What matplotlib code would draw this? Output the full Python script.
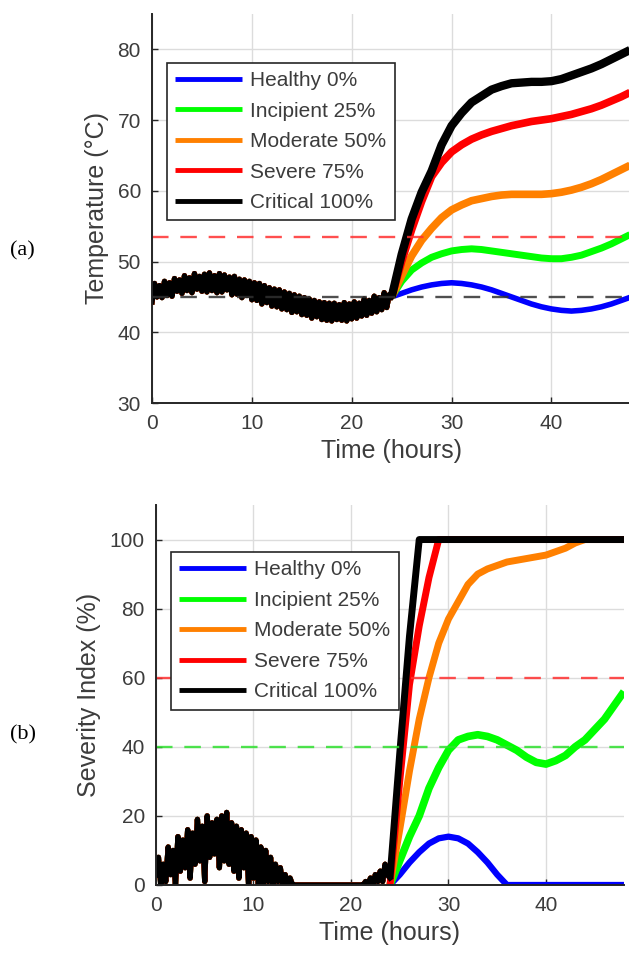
import numpy as np
import matplotlib
matplotlib.use("Agg")
from matplotlib import pyplot as plt

plt.rcParams["font.family"] = ["Liberation Sans", "DejaVu Sans"]

labels = ["Healthy 0%", "Incipient 25%", "Moderate 50%", "Severe 75%", "Critical 100%"]
colors = ["#0000ff", "#00ff00", "#ff8000", "#ff0000", "#000000"]

# first 24 h: all cases overlap (noisy ambient cycle), sampled every 0.25 h
hours_early = np.arange(0, 24.01, 0.25)
temp_early = [
    44.3, 46.9, 45.0, 46.6, 44.9, 47.2, 45.2, 47.0, 45.1, 47.6, 45.8, 47.4,
    45.5, 48.0, 45.9, 47.7, 45.6, 48.3, 46.1, 47.9, 45.8, 48.2, 45.7, 48.4,
    45.9, 48.0, 45.6, 48.3, 45.7, 48.1, 46.0, 47.8, 45.3, 47.9, 45.4, 47.5,
    44.9, 47.4, 45.2, 47.2, 44.6, 47.0, 44.5, 46.9, 44.0, 46.6, 44.2, 46.3,
    43.7, 46.1, 43.6, 46.0, 43.3, 45.7, 43.2, 45.5, 42.8, 45.3, 42.9, 45.1,
    42.5, 44.9, 42.4, 44.7, 42.0, 44.5, 42.2, 44.3, 41.8, 44.2, 41.7, 44.1,
    41.6, 44.1, 41.8, 43.9, 41.7, 44.2, 41.6, 44.0, 41.9, 44.3, 42.0, 44.1,
    42.3, 44.7, 42.4, 44.5, 42.7, 45.1, 42.9, 44.9, 43.2, 45.6, 43.5, 45.3,
    45.0,
]
sev_early = [
    3, 8, 0, 6, 1, 11, 3, 10, 0, 14, 4, 13,
    5, 16, 2, 15, 6, 19, 7, 17, 1, 20, 8, 18,
    9, 19, 5, 20, 7, 21, 6, 18, 4, 17, 2, 16,
    5, 15, 0, 14, 2, 13, 0, 11, 0, 10, 1, 8,
    0, 6, 1, 5, 0, 3, 0, 2, 0, 0, 0, 0,
    0, 0, 0, 0, 0, 0, 0, 0, 0, 0, 0, 0,
    0, 0, 0, 0, 0, 0, 0, 0, 0, 0, 0, 0,
    0, 0, 1, 0, 2, 0, 3, 1, 4, 1, 6, 3,
    2,
]

# 24-48 h: fault injected, hourly samples
hours_late = np.arange(24, 48.01, 1.0)
temp_late = {
    "Healthy 0%": [45.0, 45.5, 46.0, 46.4, 46.7, 46.9, 47.0, 46.9, 46.7, 46.4, 46.0, 45.5, 45.0,
                   44.5, 44.0, 43.6, 43.3, 43.1, 43.0, 43.1, 43.3, 43.6, 44.0, 44.5, 45.0],
    "Incipient 25%": [45.0, 47.2, 48.8, 49.8, 50.6, 51.1, 51.5, 51.7, 51.8, 51.7, 51.5, 51.3, 51.1,
                      50.9, 50.7, 50.5, 50.4, 50.4, 50.6, 50.9, 51.4, 51.9, 52.5, 53.2, 53.9],
    "Moderate 50%": [45.0, 48.0, 50.8, 53.0, 54.7, 56.2, 57.3, 58.0, 58.6, 58.9, 59.2, 59.4, 59.5,
                     59.5, 59.5, 59.5, 59.6, 59.8, 60.1, 60.5, 61.0, 61.6, 62.3, 63.0, 63.7],
    "Severe 75%": [45.0, 50.0, 54.5, 58.5, 62.0, 64.0, 65.5, 66.5, 67.3, 67.9, 68.4, 68.8, 69.2,
                   69.5, 69.8, 70.0, 70.2, 70.5, 70.8, 71.2, 71.6, 72.1, 72.7, 73.3, 74.0],
    "Critical 100%": [45.0, 51.0, 56.0, 59.8, 62.8, 66.5, 69.2, 71.0, 72.5, 73.4, 74.3, 74.8, 75.2,
                      75.3, 75.4, 75.4, 75.5, 75.8, 76.3, 76.8, 77.3, 77.9, 78.6, 79.3, 80.0],
}
sev_late = {
    "Healthy 0%": [0, 3, 6.5, 9.5, 12, 13.5, 14, 13.5, 12, 9.5, 6.5, 3, 0,
                   0, 0, 0, 0, 0, 0, 0, 0, 0, 0, 0, 0],
    "Incipient 25%": [0, 7, 14, 20, 28, 34, 39, 42, 43, 43.5, 43, 42, 40.5,
                      39, 37, 35.5, 35, 36, 37.5, 40, 42, 45, 48, 52, 56],
    "Moderate 50%": [0, 16, 33, 48, 60, 70, 77, 82, 87, 90, 91.5, 92.5, 93.5,
                     94, 94.5, 95, 95.5, 96.5, 97.5, 99, 100, 100, 100, 100, 100],
    "Severe 75%": [0, 30, 58, 75, 89, 100, 100, 100, 100, 100, 100, 100, 100,
                   100, 100, 100, 100, 100, 100, 100, 100, 100, 100, 100, 100],
    "Critical 100%": [2, 38, 72, 100, 100, 100, 100, 100, 100, 100, 100, 100, 100,
                      100, 100, 100, 100, 100, 100, 100, 100, 100, 100, 100, 100],
}

temp_thresholds = [(53.5, "#ff3030"), (45.0, "#303030")]
sev_thresholds = [(60, "#ff3030"), (40, "#30e030")]

# noise-band thickness of each trace after the fault starts
temp_widths = [4.0, 5.0, 5.5, 5.5, 6.0]
sev_widths = [4.5, 5.5, 5.0, 5.0, 5.0]

text_color = "#3c3c3c"

fig = plt.figure(figsize=(6.29, 9.63), dpi=100)
ax1 = fig.add_axes([0.2417, 0.5815, 0.762, 0.404])
ax2 = fig.add_axes([0.248, 0.081, 0.744, 0.3946])


def style_axes(ax, ylim, yticks, ylabel):
    ax.set_xlim(0, 48)
    ax.set_ylim(*ylim)
    ax.set_xticks([0, 10, 20, 30, 40])
    ax.set_yticks(yticks)
    ax.grid(True, color="#dcdcdc", linewidth=1.0)
    ax.set_axisbelow(True)
    for side in ["top", "right"]:
        ax.spines[side].set_visible(False)
    for side in ["left", "bottom"]:
        ax.spines[side].set_color("#262626")
        ax.spines[side].set_linewidth(1.4)
    ax.tick_params(direction="in", length=4, width=1.0, colors="#262626",
                   labelcolor=text_color, labelsize=15, pad=8)
    ax.set_xlabel("Time (hours)", fontsize=18, color=text_color, labelpad=4)
    ax.set_ylabel(ylabel, fontsize=18, color=text_color, labelpad=6)


for ax, early, late, widths, thresholds in [
    (ax1, temp_early, temp_late, temp_widths, temp_thresholds),
    (ax2, sev_early, sev_late, sev_widths, sev_thresholds),
]:
    for name, c, w in zip(labels, colors, widths):
        ax.plot(hours_early, early, color=c, linewidth=3.8)
        ax.plot(hours_late, late[name], color=c, linewidth=w, label=name,
                solid_capstyle="butt")
    for level, c in thresholds:
        ax.axhline(level, color=c, linestyle=(0, (7, 5)), linewidth=1.7, alpha=0.85)

style_axes(ax1, (30, 85), [30, 40, 50, 60, 70, 80], "Temperature (°C)")
style_axes(ax2, (0, 110), [0, 20, 40, 60, 80, 100], "Severity Index (%)")

for ax, anchor in [(ax1, (0.031, 0.874)), (ax2, (0.032, 0.876))]:
    leg = ax.legend(loc="upper left", bbox_to_anchor=anchor, borderaxespad=0,
                    fontsize=15, handlelength=3.2, handletextpad=0.4,
                    labelspacing=0.55, borderpad=0.4, fancybox=False,
                    framealpha=1, edgecolor="#262626")
    leg.get_frame().set_linewidth(1.2)
    for line in leg.get_lines():
        line.set_linewidth(3.5)
    for t in leg.get_texts():
        t.set_color(text_color)

fig.text(0.016, 0.740, "(a)", fontsize=16, family="Liberation Serif", va="center")
fig.text(0.016, 0.237, "(b)", fontsize=16, family="Liberation Serif", va="center")

fig.savefig("out.png", dpi=100)
